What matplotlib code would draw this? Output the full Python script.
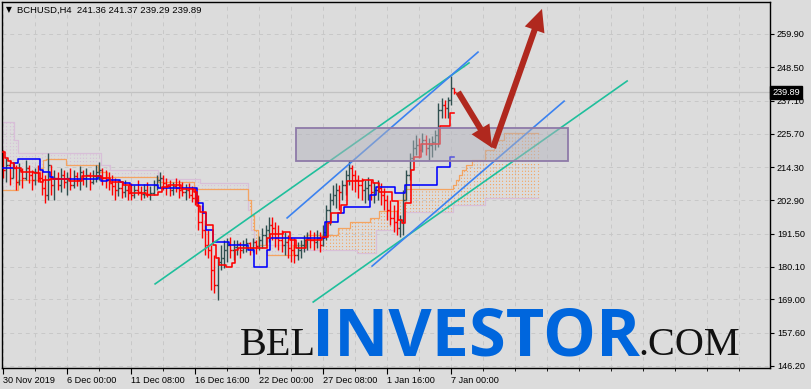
import numpy as np
import matplotlib
matplotlib.use("Agg")
import matplotlib.pyplot as plt
from matplotlib.patches import Rectangle
from matplotlib.transforms import blended_transform_factory

# --- H4 bars (bar index 0 = 30 Nov 2019) ---
highs = [220.2, 217.4, 216.8, 216.1, 215.0, 215.7, 214.0, 216.8, 215.0, 213.3,
         214.0, 215.0, 213.3, 211.6, 219.1, 215.0, 213.3, 212.6, 214.0, 213.3,
         212.6, 214.0, 213.3, 212.6, 214.7, 213.3, 214.0, 212.6, 213.3, 215.0,
         216.1, 214.0, 213.3, 212.6, 211.6, 210.6, 209.9, 209.2, 209.9, 208.2,
         208.9, 208.2, 209.9, 207.8, 208.5, 209.2, 207.8, 209.9, 211.6, 212.6,
         211.6, 210.6, 209.9, 209.2, 210.6, 209.9, 209.2, 208.5, 208.9, 207.8,
         207.1, 204.8, 201.3, 196.2, 192.8, 187.6, 184.2, 183.5, 187.6, 189.4,
         190.0, 190.4, 189.4, 189.4, 188.7, 189.4, 190.0, 188.7, 190.0, 189.4,
         190.7, 193.5, 194.5, 197.2, 197.2, 195.5, 194.5, 192.8, 192.1, 191.1,
         190.4, 190.0, 188.7, 189.4, 191.1, 192.1, 192.8, 192.1, 192.8, 192.1,
         194.5, 201.3, 205.4, 208.2, 208.9, 208.2, 209.9, 213.3, 216.8, 215.0,
         213.3, 211.6, 210.6, 209.9, 210.9, 209.9, 209.2, 209.9, 208.9, 207.1,
         204.8, 203.0, 201.3, 199.6, 197.9, 206.5, 213.3, 219.1, 223.6, 225.3,
         224.3, 226.0, 225.3, 224.3, 225.0, 227.0, 236.3, 238.0, 237.3, 238.3,
         245.5, 241.37]
lows = [210.6, 209.2, 208.2, 210.6, 206.5, 208.2, 207.1, 209.9, 208.9, 206.5,
        208.2, 209.2, 204.8, 202.0, 203.0, 204.8, 203.0, 206.5, 205.8, 207.1,
        204.8, 206.5, 207.1, 207.8, 206.5, 208.2, 207.5, 206.5, 208.5, 209.2,
        209.9, 208.2, 207.1, 206.5, 204.8, 203.0, 204.4, 203.7, 204.1, 203.0,
        203.0, 203.7, 204.8, 203.0, 203.7, 204.1, 203.0, 204.8, 206.5, 207.1,
        206.5, 204.8, 204.4, 204.8, 205.8, 203.7, 204.4, 203.0, 203.7, 202.4,
        201.3, 192.8, 190.0, 184.2, 183.2, 172.2, 171.2, 168.8, 179.1, 179.8,
        181.8, 183.2, 182.5, 184.2, 183.2, 184.9, 185.2, 184.2, 185.2, 184.6,
        185.9, 186.6, 187.6, 188.7, 189.4, 186.9, 185.9, 185.2, 184.2, 183.2,
        181.8, 181.5, 182.5, 183.2, 185.2, 185.9, 186.6, 185.9, 186.6, 185.2,
        187.3, 189.4, 194.5, 201.3, 200.3, 199.6, 203.0, 204.8, 208.2, 206.5,
        205.8, 203.7, 203.0, 202.0, 203.0, 203.0, 202.0, 203.0, 201.3, 199.6,
        196.2, 194.5, 192.1, 191.1, 190.4, 191.1, 203.0, 209.9, 216.8, 218.5,
        217.4, 219.5, 218.5, 216.8, 217.8, 220.2, 221.2, 231.1, 231.1, 231.1,
        235.6, 239.29]
closes = [213.3, 215.0, 210.6, 214.0, 209.2, 213.3, 210.6, 214.0, 211.6, 209.9,
          212.6, 210.6, 207.1, 204.8, 215.0, 208.2, 210.6, 208.2, 211.6, 209.2,
          210.6, 208.2, 211.3, 209.9, 212.6, 210.6, 211.6, 209.2, 211.3, 212.6,
          213.3, 210.6, 209.9, 208.9, 207.8, 206.5, 207.1, 205.8, 206.5, 205.4,
          204.8, 206.5, 205.8, 205.1, 206.5, 205.1, 205.4, 208.2, 209.9, 210.6,
          208.9, 207.8, 206.5, 207.8, 207.1, 206.5, 205.8, 206.5, 204.8, 203.7,
          203.0, 195.5, 192.8, 187.6, 185.9, 179.1, 173.9, 181.8, 183.2, 185.9,
          187.6, 185.9, 186.9, 188.0, 185.9, 187.6, 188.3, 186.6, 188.7, 187.3,
          189.4, 191.1, 192.8, 194.5, 193.5, 190.0, 189.4, 187.6, 188.7, 186.6,
          185.9, 184.2, 185.9, 187.6, 189.4, 190.0, 189.4, 188.7, 190.0, 187.6,
          192.1, 199.6, 203.0, 204.8, 206.5, 205.8, 208.2, 211.6, 214.0, 211.6,
          209.9, 208.2, 206.5, 207.1, 208.2, 205.8, 206.5, 207.1, 204.8, 203.0,
          199.6, 196.9, 195.5, 193.5, 196.2, 203.0, 211.6, 217.4, 220.9, 221.9,
          220.2, 223.6, 220.9, 221.9, 222.9, 225.3, 233.9, 235.6, 234.6, 237.3,
          241.36, 239.89]
first_open = 216.0
opens = [first_open] + closes[:-1]   # 24/7 market: each bar opens at the prior close

# --- Ichimoku lines ---
tenkan = ([219.5, 217.4, 216.4, 215.7] + [214.0] * 2 + [212.6] * 4 + [212.3] * 2
          + [209.2] + [209.9] * 2 + [210.2] * 6 + [209.6] * 4 + [211.3] * 6
          + [210.6] * 3 + [209.2] * 4 + [208.2] * 2 + [205.4] * 5 + [204.8] * 4
          + [205.8] + [207.5] * 2 + [208.2] * 4 + [206.8] * 4 + [205.8] + [201.0]
          + [198.9] * 2 + [194.5] * 2 + [187.6] + [183.2] + [180.8] * 2 + [180.1] * 2
          + [181.5] + [185.9] + [186.6] * 9 + [190.0] + [191.4] * 4 + [192.1] * 2
          + [189.4] * 2 + [186.6] * 3 + [189.4] * 5 + [190.4] * 2 + [195.2]
          + [198.6] * 3 + [201.3] * 2 + [209.6] * 5 + [209.9] * 3 + [208.9] * 2
          + [205.8] * 4 + [202.7] * 2 + [196.2] + [195.2] + [202.0] * 2 + [213.3]
          + [217.8] * 2 + [222.2] * 6 + [228.4] * 3 + [232.9] * 2)
kijun = ([214.0] * 4 + [215.7] + [217.1] * 7 + [213.3] + [212.6] * 2 + [210.9]
         + [210.2] * 14 + [211.3] + [209.6] * 2 + [209.9] * 4 + [209.2] + [208.9] * 2
         + [208.2] * 9 + [207.1] * 12 + [202.0] * 2 + [198.6] + [192.8] * 2
         + [188.7] * 5 + [187.6] * 6 + [185.9] * 2 + [180.1] * 4 + [185.9]
         + [190.0] * 17 + [195.5] * 4 + [198.6] * 2 + [200.6] * 8 + [204.8] * 2
         + [207.5] * 6 + [205.4] * 3 + [208.2] * 10 + [214.4] * 4 + [217.8] * 2)
span_a = ([206.5] * 5 + [209.9] * 7 + [214.0, 216.8] + [217.1] * 6 + [215.0] * 10
          + [212.6] * 3 + [210.9] * 16 + [209.2] * 11 + [206.8] * 17
          + [203.0, 197.9, 192.8] + [187.6] * 3 + [184.2] * 8 + [187.6] * 4
          + [191.1] * 10 + [193.5] * 4 + [195.5] * 6 + [196.9] * 3 + [199.3] * 6
          + [203.0] * 2 + [206.8] * 15 + [208.2, 209.9, 211.6, 213.3] + [215.0] * 2
          + [216.8] * 4 + [220.2] * 3 + [223.6] * 3 + [226.0] * 11)
span_b = ([229.8] * 4 + [223.6] + [219.1] * 26 + [215.0] * 3 + [213.3] * 15
          + [210.2] * 13 + [208.9] * 15 + [199.6, 192.8] + [187.6] * 14
          + [185.9] * 18 + [184.9] * 6 + [192.8] * 6 + [195.2] * 3 + [198.9] * 15
          + [201.3] * 10 + [203.7] * 17)

# --- drawn objects (bar index, price) ---
teal_lines = [((47.5, 174.3), (145.6, 250.0)), ((96.9, 168.1), (195.0, 243.8))]
blue_lines = [((88.75, 196.9), (148.4, 253.7)), ((115.3, 180.4), (175.3, 236.9))]
arrows = [((142.2, 240.0), (152.8, 220.9)), ((153.1, 220.9), (168.4, 268.5))]
zone = (91.6, 176.6, 216.4, 227.7)
bid = 239.89

ytick_vals = [146.20, 157.60, 169.00, 180.10, 191.50, 202.90, 214.30, 225.70,
              237.10, 248.50, 259.90]
xtick_pos = [0, 20, 40, 60, 80, 100, 120, 140]
xtick_lab = ["30 Nov 2019", "6 Dec 00:00", "11 Dec 08:00", "16 Dec 16:00",
             "22 Dec 00:00", "27 Dec 08:00", "1 Jan 16:00", "7 Jan 00:00"]

BG = "#dcdcdc"
FONT = ["Liberation Sans", "DejaVu Sans"]

fig = plt.figure(figsize=(8.11, 3.89), dpi=100)
fig.patch.set_facecolor(BG)
ax = fig.add_axes([2 / 811, 21 / 389, 768 / 811, 366 / 389])
ax.set_facecolor(BG)
ax.set_xlim(-0.35, 239.65)
ax.set_ylim(145.5, 270.86)

# grid
ax.set_xticks(xtick_pos)
ax.set_xticklabels(xtick_lab, fontsize=6.6, family=FONT, ha="left")
ax.set_xticks([v for v in range(10, 240, 10) if v not in xtick_pos], minor=True)
ax.grid(True, axis="x", which="both", color="#c8c8c8", lw=0.7, ls=(0, (4, 4)), zorder=0)
ax.yaxis.tick_right()
ax.set_yticks(ytick_vals)
ax.set_yticklabels([f"{v:.2f}" for v in ytick_vals], fontsize=6.6, family=FONT)
ax.grid(True, axis="y", color="#c8c8c8", lw=0.7, ls=(0, (4, 4)), zorder=0)
ax.tick_params(axis="x", which="major", length=4, width=0.8, pad=2)
ax.tick_params(axis="x", which="minor", length=2, width=0.6)
ax.tick_params(axis="y", length=3, width=0.8, pad=2)
for s in ax.spines.values():
    s.set_color("black")
    s.set_linewidth(1.0)
ax.set_axisbelow(True)

# bid line
ax.axhline(bid, color="#c2c2c2", lw=0.9, zorder=0.5)

# ichimoku cloud (dotted hatch between the two spans)
j = np.arange(len(span_a))
sa = np.array(span_a)
sb = np.array(span_b)
cloud_col = np.where(sa >= sb, "#f4a460", "#d8bfd8")
ax.vlines(j, np.minimum(sa, sb), np.maximum(sa, sb), colors=cloud_col,
          lw=0.8, linestyles=(0, (1, 2)), zorder=1)
ax.plot(j, sb, color="#d8bfd8", lw=0.9, drawstyle="steps-mid", zorder=1.2)
ax.plot(j, sa, color="#f4a460", lw=0.9, drawstyle="steps-mid", zorder=1.3)

# bars
x = np.arange(len(closes))
o = np.array(opens)
c = np.array(closes)
bar_col = np.where(c >= o, "#2f4f4f", "#ff0000")
ax.vlines(x, lows, highs, colors=bar_col, lw=1.0, zorder=2)
ax.hlines(o, x - 0.5, x, colors=bar_col, lw=1.0, zorder=2)
ax.hlines(c, x, x + 0.5, colors=bar_col, lw=1.0, zorder=2)

# tenkan / kijun
ax.plot(np.arange(len(kijun)), kijun, color="#0000ff", lw=1.15, drawstyle="steps-mid", zorder=3)
ax.plot(np.arange(len(tenkan)), tenkan, color="#ff0000", lw=1.15, drawstyle="steps-mid", zorder=3.1)

# channels
for (x0, y0), (x1, y1) in teal_lines:
    ax.plot([x0, x1], [y0, y1], color="#1fbf9c", lw=1.2, zorder=4)
for (x0, y0), (x1, y1) in blue_lines:
    ax.plot([x0, x1], [y0, y1], color="#3b82f0", lw=1.2, zorder=4)

# zone
ax.add_patch(Rectangle((zone[0], zone[2]), zone[1] - zone[0], zone[3] - zone[2],
                       facecolor=(0.70, 0.70, 0.74, 0.5), edgecolor="#8e7aa8",
                       lw=1.3, zorder=5))

# arrows
for start, end in arrows:
    ax.annotate("", xy=end, xytext=start, zorder=6,
                arrowprops=dict(arrowstyle="simple,head_length=0.8,head_width=0.75,tail_width=0.22",
                                mutation_scale=20, facecolor="#b0281e", edgecolor="none",
                                shrinkA=0, shrinkB=0))

# price label
trans = blended_transform_factory(ax.transAxes, ax.transData)
ax.text(1.003, bid, f"{bid:.2f}", transform=trans, ha="left", va="center",
        fontsize=6.6, family=FONT, color="white", zorder=10, clip_on=False,
        bbox=dict(boxstyle="square,pad=0.2", facecolor="black", edgecolor="black"))

# header
fig.text(6 / 811, 1 - 10 / 389, "\u25bc", fontsize=5.5, family="DejaVu Sans",
         va="center", ha="left")
fig.text(17 / 811, 1 - 10 / 389, "BCHUSD,H4  241.36 241.37 239.29 239.89",
         fontsize=6.8, family=FONT, va="center", ha="left")

# watermark
base = 34 / 389
fig.text(240 / 811, base, "BEL", fontsize=29, family="Liberation Serif",
         color="#111111", va="baseline", ha="left", zorder=20)
fig.text(312 / 811, base, "INVESTOR", fontsize=48, family="Open Sans",
         weight="bold", color="#0066dd", va="baseline", ha="left", zorder=20)
fig.text(638 / 811, base, ".COM", fontsize=29, family="Liberation Serif",
         color="#111111", va="baseline", ha="left", zorder=20)

fig.savefig("out.png", dpi=100, facecolor=BG)
